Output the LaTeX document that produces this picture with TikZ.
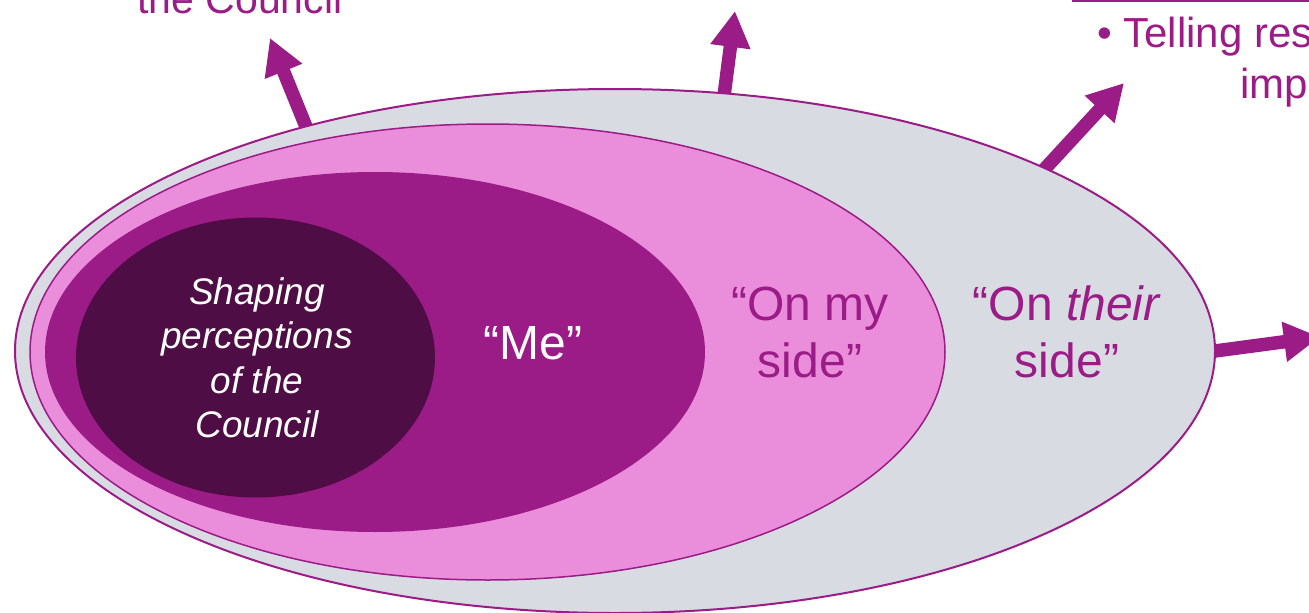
\documentclass[tikz,border=0pt]{standalone}
\usepackage{fontspec}
\setmainfont{Liberation Sans}
\usetikzlibrary{shapes.geometric,arrows.meta}
\definecolor{mag}{HTML}{9B1B87}
\definecolor{greyfill}{HTML}{D9DBE3}
\definecolor{pinkfill}{HTML}{EA8EDB}
\definecolor{darkfill}{HTML}{4E0E45}
\pgfdeclarelayer{bg}
\pgfsetlayers{bg,main}
\begin{document}
\begin{tikzpicture}[x=1pt,y=-1pt,
  ell/.style={ellipse, inner sep=0pt, outer sep=0pt},
  bigarrow/.style={draw=mag, line width=13.5pt, -{Triangle[length=36pt,width=38pt]}, shorten <=-8pt},
  big/.style={font=\fontsize{48}{57}\selectfont, align=center},
  small/.style={font=\fontsize{42}{51}\selectfont, text=mag}
]
\useasboundingbox (0,0) rectangle (1309,613);
\clip (0,0) rectangle (1309,613);
% nested ellipses
\node[ell, draw=mag, line width=2pt, fill=greyfill, minimum width=1200pt, minimum height=524pt] (outer) at (615,351) {};
\node[ell, draw=mag, line width=1.5pt, fill=pinkfill, minimum width=915pt, minimum height=456pt] (pink) at (487.5,352) {};
\node[ell, fill=mag, minimum width=660pt, minimum height=360pt] (me) at (375,352) {};
\node[ell, fill=darkfill, minimum width=359pt, minimum height=280pt] (dark) at (255.5,357.5) {};
% texts in ellipses
\node[font=\itshape\fontsize{37}{44.5}\selectfont, text=white, align=center] (shapetext) at (257,358) {Shaping\\perceptions\\of the\\Council};
\node[big, text=white] (metext) at (533,343) {“Me”};
\node[big, text=mag] (mysidetext) at (810,332) {“On my\\side”};
\node[big, text=mag] (theirsidetext) at (1067,332) {“On \textit{their}\\side”};
% outside texts (cut by the frame)
\node[small, font=\fontsize{41}{49}\selectfont, anchor=base] (council) at (240,13) {the Council};
\coordinate (rulestart) at (1072,1);
\coordinate (ruleend) at (1309,1);
\draw[mag, line width=2.5pt] (rulestart) -- (ruleend);
\node[small, anchor=base west, inner sep=0pt] (tell) at (1097,47) {• Telling res};
\node[small, anchor=base west, inner sep=0pt] (imp) at (1240,98) {imp};
% arrows
\coordinate (t1) at (270,38);
\coordinate (t2) at (735,11);
\coordinate (t3) at (1124,83);
\coordinate (t4) at (1320,337);
\begin{pgfonlayer}{bg}
\draw[bigarrow] (outer.144.6) -- (t1);
\draw[bigarrow] (outer.67.6) -- (t2);
\draw[bigarrow] (outer.23.5) -- (t3);
\draw[bigarrow] (outer.0) -- (t4);
\end{pgfonlayer}
\end{tikzpicture}
\end{document}
